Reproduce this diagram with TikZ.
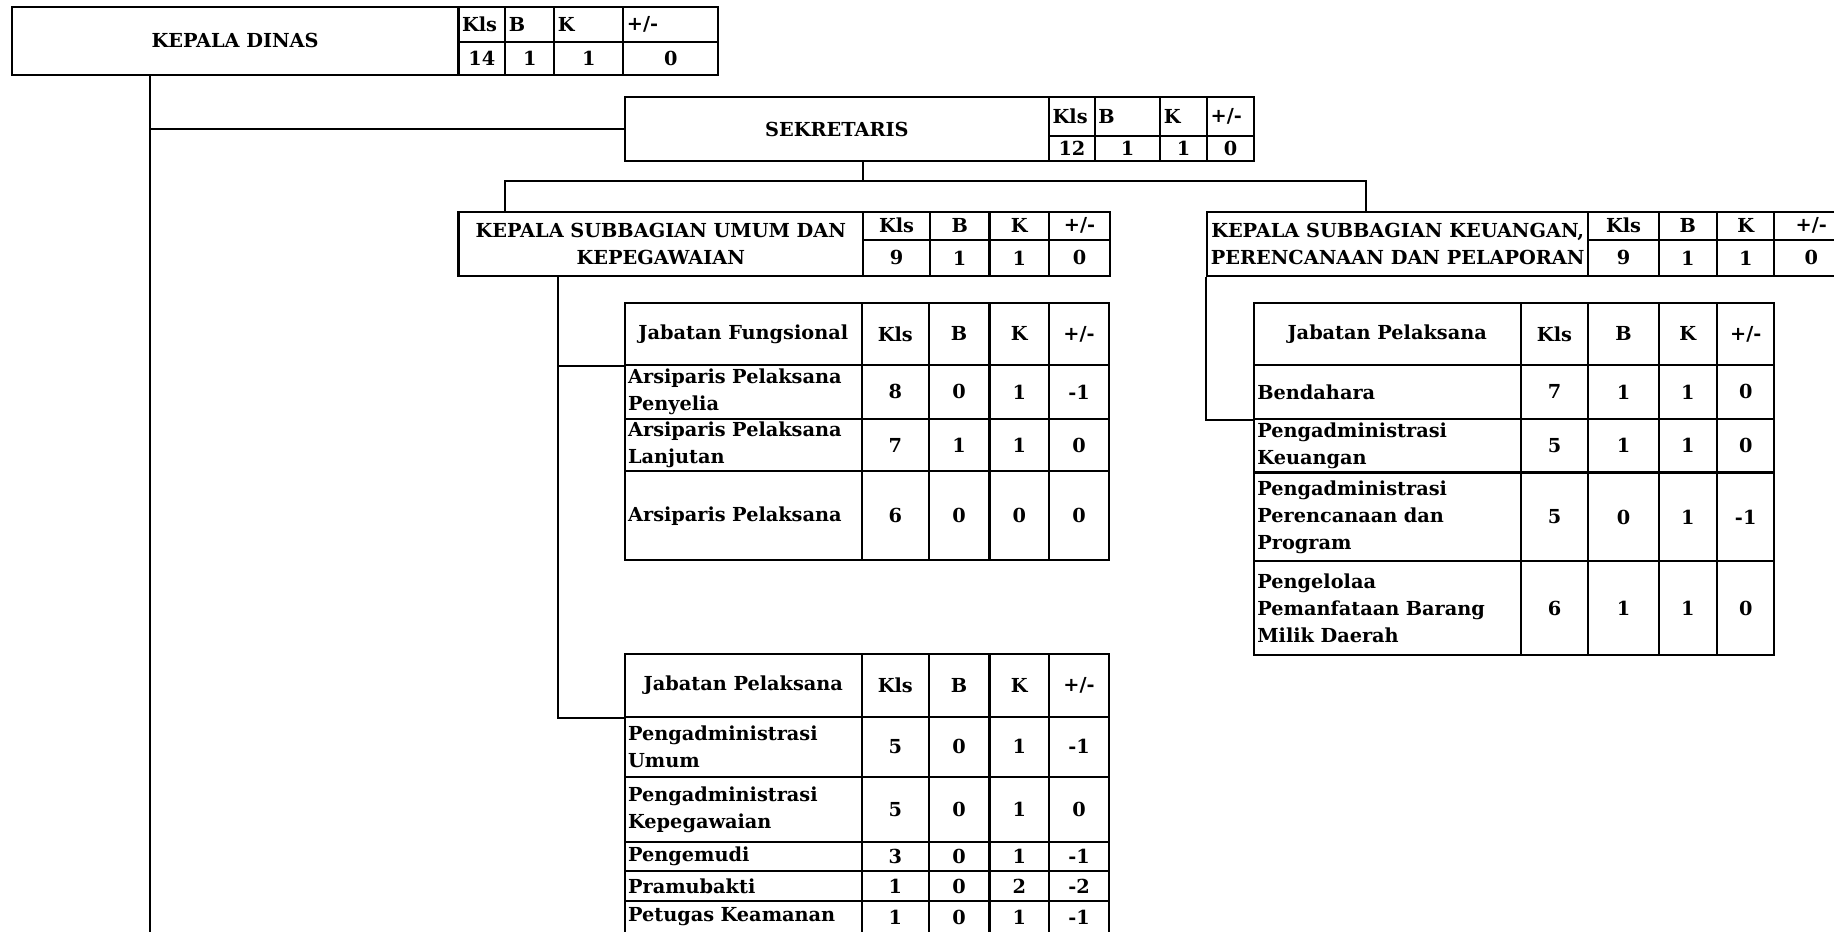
\documentclass[tikz,border=0pt]{standalone}
\usepackage{fontspec}
\setmainfont{DejaVu Serif}
\tikzset{
  cell/.style={draw, line width=1.8pt, inner sep=0pt, align=center,
    font=\bfseries\fontsize{16.5}{23}\selectfont},
  wire/.style={line width=1.8pt}
}
% centred cell: name, x1, y1, x2, y2, text
\newcommand\cc[6]{\pgfmathsetmacro\cellW{#4-#2}\pgfmathsetmacro\cellH{#5-#3}%
  \node[cell,minimum width=\cellW pt,minimum height=\cellH pt] (#1) at ({(#2+#4)/2},{(#3+#5)/2}) {#6};}
% left-aligned cell
\newcommand\cl[6]{\pgfmathsetmacro\cellW{#4-#2}\pgfmathsetmacro\cellH{#5-#3}\pgfmathsetmacro\cellT{#4-#2-6}%
  \node[cell,text width=\cellT pt,align=left,inner xsep=3pt,minimum width=\cellW pt,minimum height=\cellH pt] (#1) at ({(#2+#4)/2},{(#3+#5)/2}) {#6};}
\newcommand\setcols[6]{\def\cxa{#1}\def\cxb{#2}\def\cxc{#3}\def\cxd{#4}\def\cxe{#5}\def\cxf{#6}}
\newcommand\trow[8]{\cl{#1}{\cxa}{#2}{\cxb}{#3}{#4}\cc{#1k}{\cxb}{#2}{\cxc}{#3}{#5}\cc{#1b}{\cxc}{#2}{\cxd}{#3}{#6}\cc{#1c}{\cxd}{#2}{\cxe}{#3}{#7}\cc{#1d}{\cxe}{#2}{\cxf}{#3}{#8}}
\newcommand\thead[4]{\cc{#1}{\cxa}{#2}{\cxb}{#3}{#4}\cc{#1k}{\cxb}{#2}{\cxc}{#3}{Kls}\cc{#1b}{\cxc}{#2}{\cxd}{#3}{B}\cc{#1c}{\cxd}{#2}{\cxe}{#3}{K}\cc{#1d}{\cxe}{#2}{\cxf}{#3}{+/-}}
\begin{document}
\begin{tikzpicture}[x=1pt,y=-1pt]
\useasboundingbox (0,0) rectangle (1568,796);
\fill[white] (0,0) rectangle (1568,796);

% KEPALA DINAS
\cc{kd}{10}{6}{392}{64}{KEPALA DINAS}
\cl{kdh1}{392}{6}{432}{36}{Kls}
\cl{kdh2}{432}{6}{474}{36}{B}
\cl{kdh3}{474}{6}{533}{36}{K}
\cl{kdh4}{533}{6}{614}{36}{+/-}
\cc{kdv1}{392}{36}{432}{64}{14}
\cc{kdv2}{432}{36}{474}{64}{1}
\cc{kdv3}{474}{36}{533}{64}{1}
\cc{kdv4}{533}{36}{614}{64}{0}

% SEKRETARIS
\cc{sek}{534}{83}{897}{138}{SEKRETARIS}
\cl{sekh1}{897}{83}{936}{116}{Kls}
\cl{sekh2}{936}{83}{992}{116}{B}
\cl{sekh3}{992}{83}{1032}{116}{K}
\cl{sekh4}{1032}{83}{1072}{116}{+/-}
\cc{sekv1}{897}{116}{936}{138}{12}
\cc{sekv2}{936}{116}{992}{138}{1}
\cc{sekv3}{992}{116}{1032}{138}{1}
\cc{sekv4}{1032}{116}{1072}{138}{0}

% KASUBAG UMUM
\cc{ksuk}{392}{181}{738}{236}{KEPALA SUBBAGIAN UMUM DAN\\KEPEGAWAIAN}
\cc{ksukh1}{738}{181}{795}{205}{Kls}
\cc{ksukh2}{795}{181}{846}{205}{B}
\cc{ksukh3}{846}{181}{897}{205}{K}
\cc{ksukh4}{897}{181}{949}{205}{+/-}
\cc{ksukv1}{738}{205}{795}{236}{9}
\cc{ksukv2}{795}{205}{846}{236}{1}
\cc{ksukv3}{846}{205}{897}{236}{1}
\cc{ksukv4}{897}{205}{949}{236}{0}

% KASUBAG KEUANGAN
\cc{kskpp}{1032}{181}{1358}{236}{KEPALA SUBBAGIAN KEUANGAN,\\PERENCANAAN DAN PELAPORAN}
\cc{kskpph1}{1358}{181}{1418}{205}{Kls}
\cc{kskpph2}{1418}{181}{1468}{205}{B}
\cc{kskpph3}{1468}{181}{1517}{205}{K}
\cc{kskpph4}{1517}{181}{1580}{205}{+/-}
\cc{kskppv1}{1358}{205}{1418}{236}{9}
\cc{kskppv2}{1418}{205}{1468}{236}{1}
\cc{kskppv3}{1468}{205}{1517}{236}{1}
\cc{kskppv4}{1517}{205}{1580}{236}{0}

% Jabatan Fungsional table
\setcols{534}{737}{794}{846}{897}{948}
\thead{jfh}{259}{312}{Jabatan Fungsional}
\trow{jfa}{312}{358}{Arsiparis Pelaksana\\Penyelia}{8}{0}{1}{-1}
\trow{jfb}{358}{403}{Arsiparis Pelaksana\\Lanjutan}{7}{1}{1}{0}
\trow{jfc}{403}{479}{Arsiparis Pelaksana}{6}{0}{0}{0}

% Jabatan Pelaksana (umum)
\thead{jph}{559}{613}{Jabatan Pelaksana}
\trow{jpa}{613}{664}{Pengadministrasi\\Umum}{5}{0}{1}{-1}
\trow{jpb}{664}{720}{Pengadministrasi\\Kepegawaian}{5}{0}{1}{0}
\trow{jpc}{720}{745}{Pengemudi}{3}{0}{1}{-1}
\trow{jpd}{745}{770}{Pramubakti}{1}{0}{2}{-2}
\trow{jpe}{770}{798}{Petugas Keamanan}{1}{0}{1}{-1}

% Jabatan Pelaksana (keuangan)
\setcols{1072}{1300}{1358}{1418}{1468}{1517}
\thead{jrh}{259}{312}{Jabatan Pelaksana}
\trow{jra}{312}{358}{Bendahara}{7}{1}{1}{0}
\trow{jrb}{358}{404}{Pengadministrasi\\Keuangan}{5}{1}{1}{0}
\trow{jrc}{404}{480}{Pengadministrasi\\Perencanaan dan\\Program}{5}{0}{1}{-1}
\trow{jrd}{480}{560}{Pengelolaa\\Pemanfataan Barang\\Milik Daerah}{6}{1}{1}{0}

% connectors
\coordinate (trunk) at (128,800);
\draw[wire] (kd.south -| trunk) -- (trunk);
\draw[wire] (trunk |- sek.west) -- (sek.west);
\coordinate (sekdrop) at (738,155);
\coordinate (busL) at (432,155);
\coordinate (busR) at (1168,155);
\draw[wire] (sekdrop |- sek.south) -- (sekdrop);
\draw[wire] (busL |- ksuk.north) -- (busL) -- (busR) -- (busR |- kskpp.north);
\coordinate (ksukline) at (477,300);
\draw[wire] (ksuk.south -| ksukline) |- (jph.south west);
\draw[wire] (ksukline |- jfh.south west) -- (jfh.south west);
\draw[wire] (kskpp.south west) |- (jra.south west);
\end{tikzpicture}
\end{document}
